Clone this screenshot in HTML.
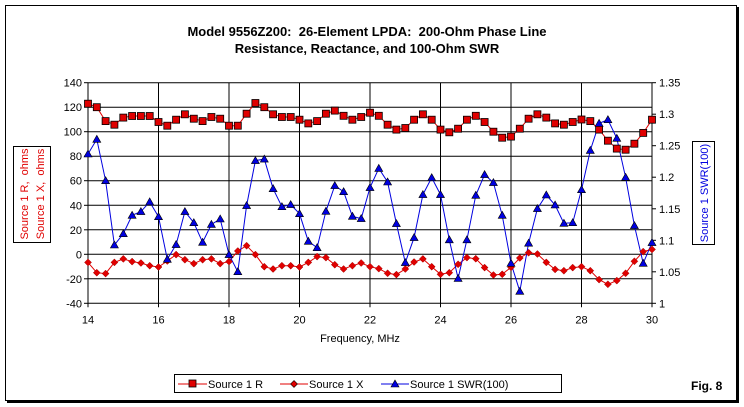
<!DOCTYPE html>
<html><head><meta charset="utf-8"><style>
html,body{margin:0;padding:0;background:#fff;width:744px;height:407px;overflow:hidden}
svg{display:block;font-family:"Liberation Sans",Arial,sans-serif}
svg text{white-space:pre}
</style></head><body>
<svg id="s" width="744" height="407" viewBox="0 0 744 407" xmlns="http://www.w3.org/2000/svg" xml:space="preserve">
<rect x="5.5" y="5.5" width="731" height="395" fill="#fff" stroke="#000" stroke-width="1"/>
<rect x="736" y="7" width="3" height="396" fill="#000"/>
<rect x="7" y="400" width="732" height="3" fill="#000"/>
<text x="367" y="36" text-anchor="middle" font-size="13" font-weight="bold">Model 9556Z200:  26-Element LPDA:  200-Ohm Phase Line</text>
<text x="367" y="53" text-anchor="middle" font-size="13" font-weight="bold">Resistance, Reactance, and 100-Ohm SWR</text>
<g id="grid"></g>
<g id="series"></g>
<text x="360" y="342" text-anchor="middle" font-size="11">Frequency, MHz</text>
<rect x="13.5" y="146.5" width="37" height="96" fill="#fff" stroke="#000"/>
<text transform="translate(28,194) rotate(-90)" text-anchor="middle" font-size="11" fill="#e00000">Source 1 R,  ohms</text>
<text transform="translate(44,194) rotate(-90)" text-anchor="middle" font-size="11" fill="#e00000">Source 1 X,  ohms</text>
<rect x="692.5" y="141.5" width="22" height="103" fill="#fff" stroke="#000"/>
<text transform="translate(708,193) rotate(-90)" text-anchor="middle" font-size="11" fill="#0000e0">Source 1 SWR(100)</text>
<rect x="174.5" y="374.5" width="387" height="18" fill="#fff" stroke="#000"/>
<line x1="178" y1="384" x2="207" y2="384" stroke="#e00000"/>
<rect x="189" y="380" width="7" height="7" fill="#e00000" stroke="#000" stroke-width="0.8"/>
<text x="208" y="388" font-size="11">Source 1 R</text>
<line x1="280" y1="384" x2="308" y2="384" stroke="#e00000"/>
<path d="M294 380.5 L297.5 384 L294 387.5 L290.5 384Z" fill="#e00000" stroke="#000" stroke-width="0.6"/>
<text x="309" y="388" font-size="11">Source 1 X</text>
<line x1="381" y1="384" x2="409" y2="384" stroke="#0000e0"/>
<path d="M395 380 L399 387 L391 387Z" fill="#0000e0" stroke="#000" stroke-width="0.6"/>
<text x="410" y="388" font-size="11">Source 1 SWR(100)</text>
<text x="691" y="390" font-size="12" font-weight="bold">Fig. 8</text>
</svg>
<script>
var X0=88,X1=652,Y0=82.7,Y1=303.3;
function px(f){return X0+(f-14)*(X1-X0)/16}
function py(v){return Y1-(v+40)*(Y1-Y0)/180}
var g='';
for(var v=-40;v<=140;v+=20){var y=py(v).toFixed(1);
 g+='<line x1="'+X0+'" y1="'+y+'" x2="'+X1+'" y2="'+y+'" stroke="#000" stroke-width="1"/>';
 g+='<line x1="'+(X0-4)+'" y1="'+y+'" x2="'+X0+'" y2="'+y+'" stroke="#000"/>';
 g+='<text x="'+(X0-6)+'" y="'+(+y+4)+'" text-anchor="end" font-size="11">'+v+'</text>';}
for(var f=14;f<=30;f+=2){var x=px(f).toFixed(1);
 g+='<line x1="'+x+'" y1="'+Y0+'" x2="'+x+'" y2="'+(Y1+4)+'" stroke="#000"/>';
 g+='<text x="'+x+'" y="'+(Y1+20)+'" text-anchor="middle" font-size="11">'+f+'</text>';}
var sw=['1','1.05','1.1','1.15','1.2','1.25','1.3','1.35'];
for(var i=0;i<8;i++){var y=(Y1-i*(Y1-Y0)/7).toFixed(1);
 g+='<line x1="'+X1+'" y1="'+y+'" x2="'+(X1+4)+'" y2="'+y+'" stroke="#000"/>';
 g+='<text x="'+(X1+7)+'" y="'+(+y+4)+'" font-size="11">'+sw[i]+'</text>';}
document.getElementById('grid').innerHTML=g;
var R=[122.9,120,108.7,105.7,111.5,112.8,112.8,112.8,107.9,104.9,109.8,114.2,110.6,108.7,112,110.6,104.9,104.9,114.7,123.4,120,114.2,112,112,109.8,106.8,108.7,114.7,117.2,113,109.8,112,115.5,113,105.7,101.7,103,109.8,114.2,109.8,101.7,99.5,102.5,109.8,113,107.9,100,95.1,96,102.5,110.6,114.2,111.5,106.8,105.7,107.9,110,108.7,101.7,92.7,86.2,85.3,90.2,99,109.8];
var Xs=[-6.6,-15,-15.8,-6.6,-3.8,-6,-7.1,-9.3,-10.4,-5.5,-0.3,-4.4,-7.6,-4.4,-3.8,-7.6,-6,2.7,7,-0.3,-10.1,-12,-9.3,-9.3,-10.4,-6.6,-1.9,-2.7,-8.5,-12,-9.3,-7.1,-10.1,-11.7,-15.5,-16.6,-12,-6.3,-3.8,-10.1,-16.3,-15,-8.2,-2.7,-3.6,-10.9,-16.9,-16.3,-10.6,-3,1.3,0.2,-6.6,-12.3,-13.4,-10.9,-10.1,-13.4,-20.7,-24.5,-21.5,-15.5,-5.7,2.2,4];
var S=[81.8,93.8,60,7.6,16.8,31.8,34.8,42.7,30.7,-4.1,7.9,34.8,25.8,9.8,24.4,28.8,-0.3,-14.2,39.7,76.4,77.7,53.5,38.8,40.5,33.1,10.6,5.4,35.1,56,51.1,31,29.1,54.4,70.1,59,25,-6.8,13.6,48.7,62.5,48.7,11.8,-19.8,11.8,48.1,65,58.5,31.8,-7.4,-30.2,9,37.3,48.4,40.2,25.3,25.8,52.7,84.8,106.8,109.8,94.6,62.8,23.4,-7.4,9.5];
function line(d,c){var p=d.map(function(v,i){return px(14+i*0.25).toFixed(1)+','+py(v).toFixed(1)}).join(' ');
 return '<polyline points="'+p+'" fill="none" stroke="'+c+'" stroke-width="1"/>';}
var o=line(R,'#e00000')+line(Xs,'#e00000')+line(S,'#0000e0');
R.forEach(function(v,i){var x=px(14+i*0.25),y=py(v);o+='<rect x="'+(x-3.5).toFixed(1)+'" y="'+(y-3.5).toFixed(1)+'" width="7" height="7" fill="#e00000" stroke="#000" stroke-width="0.8"/>';});
Xs.forEach(function(v,i){var x=px(14+i*0.25),y=py(v);o+='<path d="M'+x.toFixed(1)+' '+(y-3.5).toFixed(1)+' l3.5 3.5 l-3.5 3.5 l-3.5 -3.5Z" fill="#e00000" stroke="#a00000" stroke-width="0.5"/>';});
S.forEach(function(v,i){var x=px(14+i*0.25),y=py(v);o+='<path d="M'+x.toFixed(1)+' '+(y-4).toFixed(1)+' l4 7 l-8 0Z" fill="#0000e0" stroke="#000" stroke-width="0.6"/>';});
document.getElementById('series').innerHTML=o;
</script>
</body></html>
